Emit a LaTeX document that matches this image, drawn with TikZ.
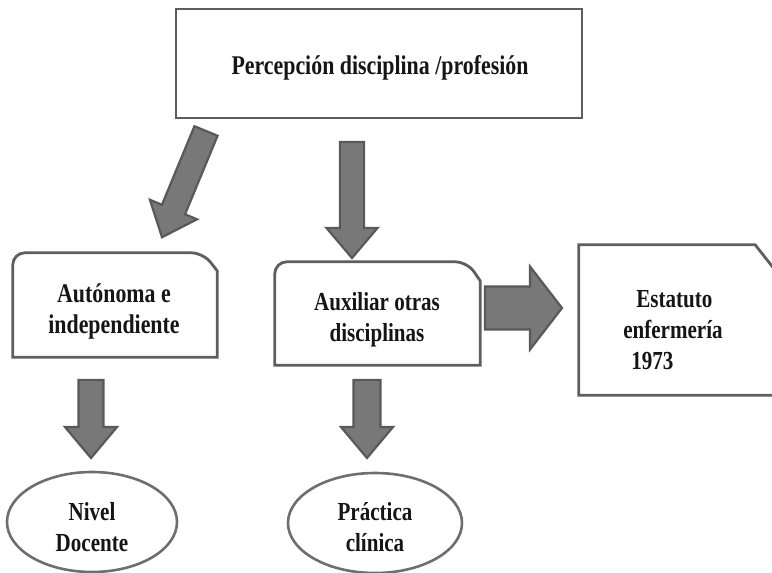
\documentclass[tikz,border=0pt]{standalone}
\usepackage{fontspec}
\setmainfont{Liberation Serif}[FakeStretch=0.81]
\usetikzlibrary{shapes.geometric}

\definecolor{framegray}{HTML}{5E5E5E}
\definecolor{ovalgray}{HTML}{6E6E6E}
\definecolor{arrowfill}{HTML}{787878}
\definecolor{arrowedge}{HTML}{595959}
\definecolor{inkgray}{HTML}{151515}

\tikzset{
  caption/.style={font=\bfseries\fontsize{26}{31}\selectfont, align=center,
    text=inkgray, inner sep=0pt},
  bigcaption/.style={caption, font=\bfseries\fontsize{27}{31}\selectfont},
  framebox/.style={draw=none, inner sep=0pt},
  frameline/.style={draw=framegray, line width=2.8pt, line join=miter},
  oval/.style={ellipse, draw=ovalgray, line width=2.6pt, inner sep=0pt},
  blockarrow/.style={fill=arrowfill, draw=arrowedge, line width=2.2pt, line join=miter},
  % straight block arrow along the local x axis: length / shaft width / head width / head length
  pics/blockarrow/.style args={#1/#2/#3/#4}{code={
    \draw[blockarrow] (0,-#2/2) -- (#1-#4,-#2/2) -- (#1-#4,-#3/2) -- (#1,0)
      -- (#1-#4,#3/2) -- (#1-#4,#2/2) -- (0,#2/2) -- cycle;
  }}
}

\begin{document}
\begin{tikzpicture}[x=1pt, y=-1pt]
\useasboundingbox (0,0) rectangle (772,573);
\clip (0,0) rectangle (772,573);

% header box
\node[framebox, draw=framegray, line width=2.8pt, minimum width=406pt, minimum height=109pt]
  (topbox) at (379,63.5) {};
\node[bigcaption] (top) at (380,68) {Percepción disciplina /profesión};

% tabbed boxes: rounded top-left corner, clipped top-right corner
\node[framebox, minimum width=204pt, minimum height=104pt] (autbox) at (115,305) {};
\draw[frameline] (autbox.south west)
  {[rounded corners=12pt] -- (autbox.north west) -- ([xshift=-14pt]autbox.north east)}
  -- ([yshift=-18pt]autbox.north east) -- (autbox.south east) -- cycle;
\node[bigcaption] (aut) at (114,311) {Autónoma e\\independiente};

\node[framebox, minimum width=205pt, minimum height=103pt] (auxbox) at (377.5,313.5) {};
\draw[frameline] (auxbox.south west)
  {[rounded corners=12pt] -- (auxbox.north west) -- ([xshift=-13pt]auxbox.north east)}
  -- ([yshift=-19pt]auxbox.north east) -- (auxbox.south east) -- cycle;
\node[caption] (aux) at (377,320) {Auxiliar otras\\disciplinas};

\node[framebox, minimum width=198pt, minimum height=150pt] (estbox) at (678,320) {};
\draw[frameline] (estbox.south west) -- (estbox.north west)
  -- ([xshift=-22pt]estbox.north east) -- ([yshift=-28pt]estbox.north east)
  -- (estbox.south east) -- cycle;
\node[caption, align=left] (est) at (673,330)
  {\hspace*{13pt}Estatuto\\enfermería\\\hspace*{8pt}1973};

% result ovals
\node[oval, minimum width=170pt, minimum height=100pt] (nivbox) at (92,522) {};
\node[caption] (niv) at (92,527) {Nivel\\Docente};
\node[oval, minimum width=174pt, minimum height=100pt] (prabox) at (375,523) {};
\node[caption] (pra) at (375,527) {Práctica\\clínica};

% block arrows
\pic[rotate=-112.5] at (206,131) {blockarrow=115/25/51/30};
\pic[rotate=-90] at (352,142) {blockarrow=116/24/51/30};
\pic at (485,308) {blockarrow=77/43/83/32};
\pic[rotate=-90] at (91,380) {blockarrow=78/25/52/31};
\pic[rotate=-90] at (367,380) {blockarrow=78/27/52/31};
\end{tikzpicture}
\end{document}
